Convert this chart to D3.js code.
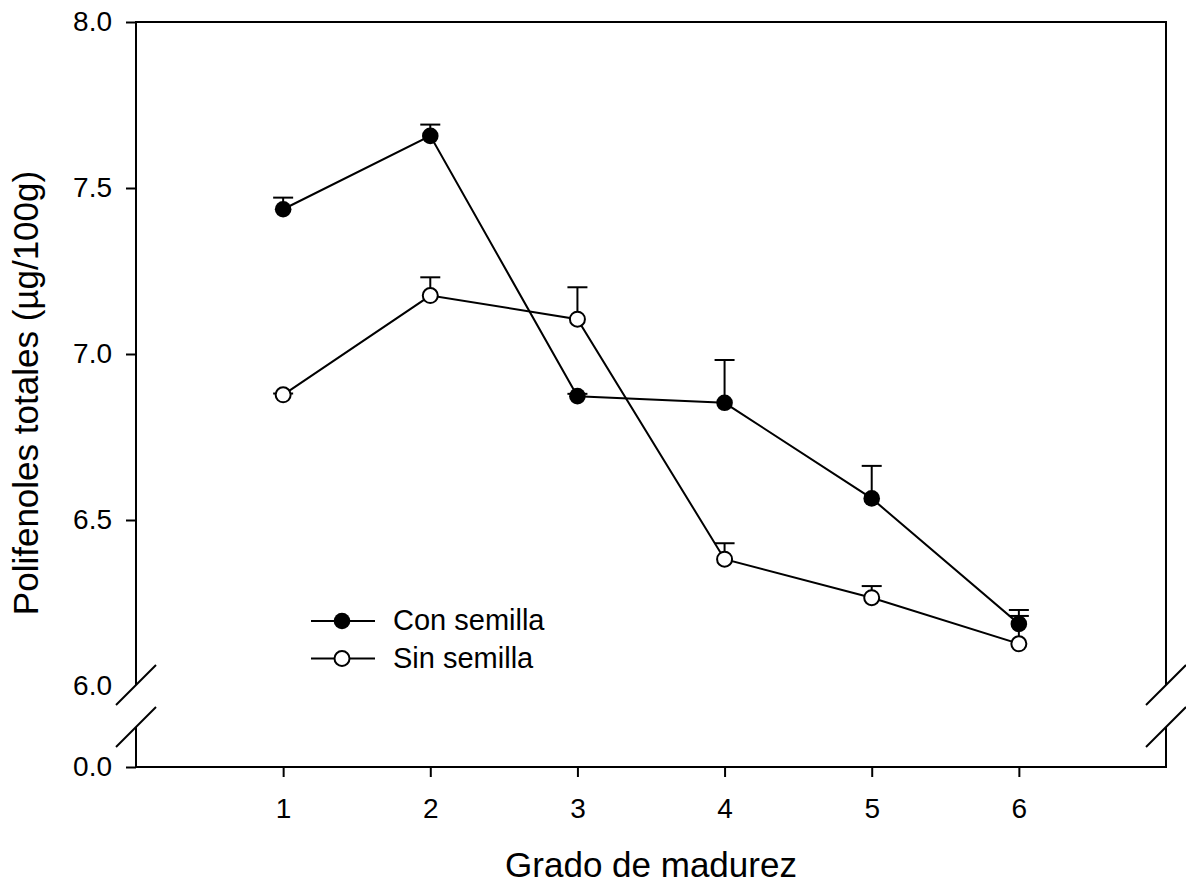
<!DOCTYPE html>
<html lang="en">
<head>
    <meta charset="UTF-8">
    <title>Polifenoles totales</title>
    <script src="https://d3js.org/d3.v7.min.js"></script>
    <style>
        body { margin: 0; background: #fff; }
        text { font-family: "Liberation Sans", Arial, sans-serif; fill: #000; }
        .tick text { font-size: 28px; }
        .frame, .brk { stroke: #000; stroke-width: 2; fill: none; }
        .serie { stroke: #000; stroke-width: 2; fill: none; }
        .err { stroke: #000; stroke-width: 2; }
    </style>
</head>
<body>
<svg width="1186" height="884"></svg>
<script>
    const width = 1186;
    const height = 884;

    // datos
    const grados = [1, 2, 3, 4, 5, 6];
    const conSemilla = [7.436, 7.657, 6.873, 6.853, 6.565, 6.187];
    const conSemillaErr = [0.035, 0.034, 0.007, 0.129, 0.098, 0.042];
    const sinSemilla = [6.877, 7.176, 7.105, 6.382, 6.266, 6.127];
    const sinSemillaErr = [0.004, 0.055, 0.096, 0.048, 0.035, 0.084];
    const yTicksUp = [6.0, 6.5, 7.0, 7.5, 8.0];
    const yTicksLow = [0.0];
    const xTicks = [1, 2, 3, 4, 5, 6];

    const mLeft = 136, mRight = 1166, mTop = 22, mBottom = 767;
    const breakGap = 42;

    const svg = d3.select("svg")
        .attr("width", width)
        .attr("height", height);

    const x = d3.scaleLinear().domain([0, 7]).range([mLeft, mRight]);
    const yUp = d3.scaleLinear().domain([6, 8]).range([686, mTop]);
    const yLow = d3.scaleLinear().domain([0, 1]).range([mBottom, mBottom - 40]);

    const breakTop = yUp(6) - 1;
    const breakBot = breakTop + breakGap;

    // marco con corte
    const frame = svg.append("g");
    [mLeft, mRight].forEach(xx => {
        frame.append("line").attr("class", "frame")
            .attr("x1", xx).attr("x2", xx).attr("y1", mTop).attr("y2", breakTop);
        frame.append("line").attr("class", "frame")
            .attr("x1", xx).attr("x2", xx).attr("y1", breakBot).attr("y2", mBottom);
        [breakTop, breakBot].forEach(yy => {
            frame.append("line").attr("class", "brk")
                .attr("x1", xx - 20).attr("y1", yy + 20)
                .attr("x2", xx + 20).attr("y2", yy - 20);
        });
    });
    frame.append("line").attr("class", "frame")
        .attr("x1", mLeft - 1).attr("x2", mRight + 1).attr("y1", mTop).attr("y2", mTop);
    frame.append("line").attr("class", "frame")
        .attr("x1", mLeft - 1).attr("x2", mRight + 1).attr("y1", mBottom).attr("y2", mBottom);

    // ejes
    const axUp = svg.append("g")
        .attr("transform", `translate(${mLeft},0)`)
        .call(d3.axisLeft(yUp).tickValues(yTicksUp).tickSize(10).tickPadding(14)
            .tickFormat(d3.format(".1f")));
    axUp.select(".domain").remove();
    axUp.selectAll(".tick").filter(d => d === 6).select("line").remove();

    const axLow = svg.append("g")
        .attr("transform", `translate(${mLeft},0)`)
        .call(d3.axisLeft(yLow).tickValues(yTicksLow).tickSize(10).tickPadding(14)
            .tickFormat(d3.format(".1f")));
    axLow.select(".domain").remove();

    const axX = svg.append("g")
        .attr("transform", `translate(0,${mBottom})`)
        .call(d3.axisBottom(x).tickValues(xTicks).tickSize(10).tickPadding(21)
            .tickFormat(d3.format("d")));
    axX.select(".domain").remove();

    svg.selectAll(".tick line").attr("stroke", "#000").attr("stroke-width", 2);
    svg.selectAll(".tick text").attr("fill", "#000");

    // titulos
    svg.append("text")
        .attr("x", x(3.5))
        .attr("y", 877)
        .attr("text-anchor", "middle")
        .style("font-size", "35px")
        .text("Grado de madurez");

    svg.append("text")
        .attr("transform", "translate(38,393) rotate(-90)")
        .attr("text-anchor", "middle")
        .style("font-size", "35px")
        .text("Polifenoles totales (µg/100g)");

    // series
    const series = [
        { name: "Con semilla", vals: conSemilla, err: conSemillaErr, fill: "#000" },
        { name: "Sin semilla", vals: sinSemilla, err: sinSemillaErr, fill: "#fff" }
    ];

    const line = d3.line()
        .x((d, i) => x(grados[i]))
        .y(d => yUp(d));

    series.forEach(s => {
        const g = svg.append("g");
        g.selectAll(".errv").data(s.vals).enter().append("line")
            .attr("class", "err")
            .attr("x1", (d, i) => x(grados[i])).attr("x2", (d, i) => x(grados[i]))
            .attr("y1", d => yUp(d)).attr("y2", (d, i) => yUp(d + s.err[i]));
        g.selectAll(".errc").data(s.vals).enter().append("line")
            .attr("class", "err")
            .attr("x1", (d, i) => x(grados[i]) - 10).attr("x2", (d, i) => x(grados[i]) + 10)
            .attr("y1", (d, i) => yUp(d + s.err[i])).attr("y2", (d, i) => yUp(d + s.err[i]));
        g.append("path").datum(s.vals).attr("class", "serie").attr("d", line);
    });

    series.forEach(s => {
        svg.append("g").selectAll("circle").data(s.vals).enter().append("circle")
            .attr("cx", (d, i) => x(grados[i]))
            .attr("cy", d => yUp(d))
            .attr("r", s.fill === "#000" ? 8.3 : 7.5)
            .attr("fill", s.fill)
            .attr("stroke", "#000")
            .attr("stroke-width", s.fill === "#000" ? 0 : 2);
    });

    // leyenda
    const legend = svg.append("g").attr("transform", "translate(311,621)");
    series.forEach((s, i) => {
        const row = legend.append("g").attr("transform", `translate(0,${i * 37.5})`);
        row.append("line").attr("class", "serie")
            .attr("x1", 0).attr("x2", 64).attr("y1", 0).attr("y2", 0);
        row.append("circle").attr("cx", 31).attr("cy", 0)
            .attr("r", s.fill === "#000" ? 8.3 : 7.5)
            .attr("fill", s.fill).attr("stroke", "#000")
            .attr("stroke-width", s.fill === "#000" ? 0 : 2);
        row.append("text").attr("x", 82).attr("y", 9)
            .style("font-size", "29px")
            .text(s.name);
    });
</script>
</body>
</html>
